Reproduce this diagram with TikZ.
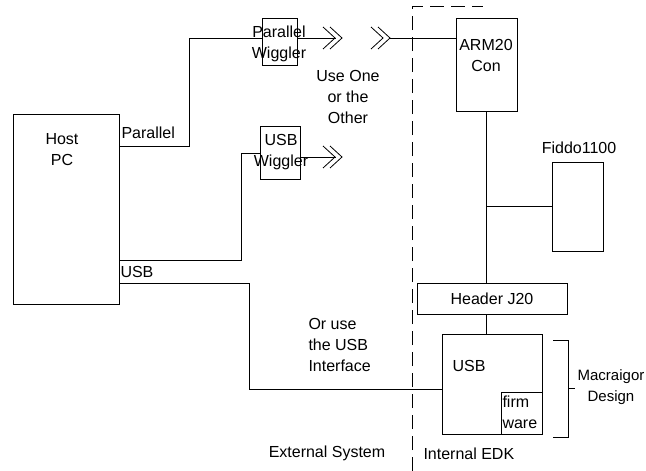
\documentclass[tikz,border=0pt]{standalone}
\usepackage{fontspec}
\setmainfont{Liberation Sans}
\usetikzlibrary{calc}
\begin{document}
\begin{tikzpicture}[x=1pt,y=-1pt,line width=1pt,
  box/.style={draw,inner sep=0pt},
  txt/.style={inner sep=0pt,align=center,font=\fontsize{16}{21}\selectfont},
  ltxt/.style={txt,align=left,anchor=west},
  border/.style={line width=1pt,dash pattern=on 14pt off 7pt},
  chev/.pic={\draw[line width=0.8pt] (-19,-11)--(-7,0)--(-19,11);
             \draw[line width=0.8pt] (-12,-11)--(0,0)--(-12,11);}]
\useasboundingbox (0,0) rectangle (646,471);
% boxes
\node[box,minimum width=106pt,minimum height=190pt] (host) at (66,209) {};
\node[box,minimum width=35pt,minimum height=47pt] (pw) at (279.5,41.5) {};
\node[box,minimum width=40pt,minimum height=53pt] (uw) at (280,152.5) {};
\node[box,minimum width=61pt,minimum height=93pt] (arm) at (486.5,64.5) {};
\node[box,minimum width=51pt,minimum height=89pt] (fid) at (577.5,206.5) {};
\node[box,minimum width=150pt,minimum height=31pt,txt] (hdr) at (492,298.5) {Header J20};
\node[box,minimum width=100pt,minimum height=100pt] (usb) at (492,384) {};
\node[box,minimum width=41pt,minimum height=42pt] (fw) at (521.5,413) {};
% texts
\node[txt] (hosttxt) at (62,149.5) {Host\\PC};
\node[ltxt] (partxt) at (121,133) {Parallel};
\node[ltxt] (usbtxt) at (120,272) {USB};
\node[txt] (pwtxt) at (279,44) {Parallel\\Wiggler};
\node[txt] (uwtxt) at (281,152.5) {USB\\Wiggler};
\node[txt] (onetxt) at (348,97) {Use One\\or the\\Other};
\node[txt] (armtxt) at (486,55.5) {ARM20\\Con};
\node[txt] (fidtxt) at (579,148) {Fiddo1100};
\node[ltxt] (ortxt) at (308,344.5) {Or use\\the USB\\Interface};
\node[txt] (usbin) at (469,366) {USB};
\node[ltxt] (fwtxt) at (502,412.5) {firm\\ware};
\node[txt,font=\fontsize{15}{21}\selectfont] (mactxt) at (611,387.5) {Macraigor\\Design};
\node[txt] (exttxt) at (327,453) {External System};
\node[ltxt] (inttxt) at (423,454) {Internal EDK};
% coordinates
\coordinate (ch1) at (342,38);
\coordinate (ch2) at (390,38);
\coordinate (ch3) at (342,157);
\coordinate (pA) at (189,146);
\coordinate (pB) at (189,38);
\coordinate (uA) at (241,260);
\coordinate (uB) at (241,153);
\coordinate (sA) at (249,283);
\coordinate (sB) at (249,389);
\coordinate (bT) at (553,340);
\coordinate (bB) at (553,437);
\coordinate (bR) at (568,388);
\coordinate (bTip) at (575,388);
\coordinate (dB) at (412,471);
\coordinate (dT) at (412,6);
\coordinate (dR) at (483,6);
% chevrons
\pic at (ch1) {chev};
\pic at (ch2) {chev};
\pic at (ch3) {chev};
% connectors
\draw (host.east |- pA) -- (pA) -- (pB) -- (pw.west |- pB);
\draw (pw.east |- pB) -- ($(ch1)+(-6,0)$);
\draw (ch2) -- (arm.west |- ch2);
\draw (host.east |- uA) -- (uA) -- (uB) -- (uw.west |- uB);
\draw (uw.east |- ch3) -- ($(ch3)+(-6,0)$);
\draw (host.east |- sA) -- (sA) -- (sB) -- (usb.west |- sB);
\draw (arm.south) -- (arm.south |- hdr.north);
\draw (arm.south |- fid.west) -- (fid.west);
\draw (arm.south |- hdr.south) -- (arm.south |- usb.north);
% bracket
\draw (bT) -- (bT -| bR) -- (bB -| bR) -- (bB);
\draw (bR) -- (bTip);
% border
\draw[border] (dB) -- (dT) -- (dR);
\end{tikzpicture}
\end{document}
